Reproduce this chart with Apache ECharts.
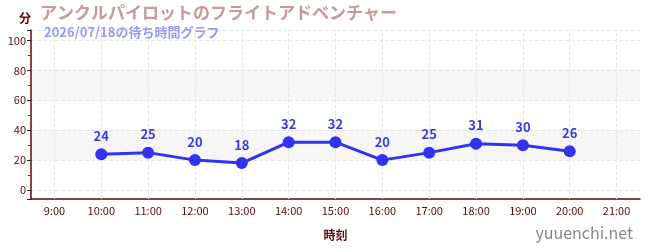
<!DOCTYPE html>
<html>
<head>
<meta charset="utf-8">
<script src="https://cdn.jsdelivr.net/npm/echarts@6/dist/echarts.min.js"></script>
<style>
html, body { margin: 0; padding: 0; background: #fff; }
#chart { width: 650px; height: 250px; }
</style>
</head>
<body>
<div id="chart"></div>
<script>
const hours = ['9:00', '10:00', '11:00', '12:00', '13:00', '14:00', '15:00',
    '16:00', '17:00', '18:00', '19:00', '20:00', '21:00'];
const waitTimes = [null, 24, 25, 20, 18, 32, 32, 20, 25, 31, 30, 26, null];
const bands = [[20, 40], [60, 80]];

const titleText = 'アンクルパイロットのフライトアドベンチャー';
const subText = '2026/07/18の待ち時間グラフ';
const axisColor = '#5a0a0a';
const gridColor = '#e6e6e6';
const font = '"Noto Sans CJK JP", "Noto Sans", sans-serif';

const chart = echarts.init(document.getElementById('chart'));

chart.setOption({
    animation: false,
    textStyle: { fontFamily: font },
    title: [
        {
            text: titleText,
            left: 35,
            top: -1,
            textStyle: { color: '#c49a9a', fontSize: 17, fontWeight: 'bold', fontFamily: font }
        },
        {
            text: subText,
            left: 39,
            top: 21,
            textStyle: { color: '#9a9af0', fontSize: 13, fontWeight: 'bold', fontFamily: font }
        },
        {
            text: 'yuuenchi.net',
            right: 12,
            bottom: 4,
            textStyle: { color: '#888', fontSize: 16, fontWeight: 'normal', fontFamily: font }
        }
    ],
    grid: { left: 31, right: 10, top: 30, bottom: 51 },
    xAxis: {
        type: 'category',
        data: hours,
        name: '時刻',
        nameLocation: 'middle',
        nameGap: 30,
        nameTextStyle: { color: axisColor, fontSize: 12, fontWeight: 'bold' },
        axisLine: { onZero: false, lineStyle: { color: axisColor, width: 1.5 } },
        axisTick: { alignWithLabel: true, inside: true, length: 4, lineStyle: { color: '#888' } },
        axisLabel: { color: axisColor, fontSize: 11, margin: 6 },
        splitLine: { show: false }
    },
    yAxis: {
        type: 'value',
        min: -6,
        max: 107,
        name: '分',
        nameLocation: 'end',
        nameGap: 6,
        nameTextStyle: { color: axisColor, fontSize: 12, fontWeight: 'bold', align: 'right' },
        axisLine: { show: true, lineStyle: { color: axisColor, width: 1.5 } },
        axisTick: { show: true, length: 4, lineStyle: { color: '#222' } },
        minorTick: { show: true, splitNumber: 2, length: 3, lineStyle: { color: '#d00' } },
        axisLabel: { color: axisColor, fontSize: 11, margin: 5, showMinLabel: false, showMaxLabel: false },
        splitLine: { lineStyle: { color: gridColor, type: 'dashed' } }
    },
    series: [{
        type: 'line',
        z: 3,
        data: waitTimes,
        connectNulls: false,
        symbol: 'circle',
        symbolSize: 12,
        itemStyle: { color: '#3333ee' },
        lineStyle: { color: '#3333ee', width: 3 },
        label: {
            show: true,
            position: 'top',
            distance: 6,
            color: '#3a3ae6',
            fontSize: 13,
            fontWeight: 'bold'
        },
        markArea: {
            silent: true,
            z: 0,
            itemStyle: { color: 'rgba(0,0,0,0.035)' },
            data: bands.map(b => [{ yAxis: b[0] }, { yAxis: b[1] }])
        },
        markLine: {
            silent: true,
            z: 1,
            symbol: 'none',
            label: { show: false },
            lineStyle: { color: gridColor, type: 'dashed', width: 1 },
            data: hours.map(h => ({ xAxis: h }))
        }
    }]
});
</script>
</body>
</html>
